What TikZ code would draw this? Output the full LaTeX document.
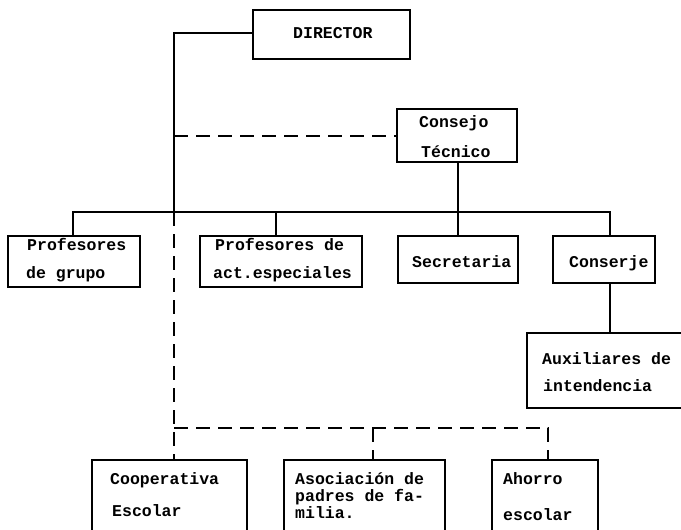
\documentclass[tikz,border=0pt]{standalone}
\usepackage{fontspec}
\setmonofont{Liberation Mono}
\begin{document}
\begin{tikzpicture}[x=1pt,y=-1pt,
  box/.style={draw, line width=2pt, rectangle, inner sep=0pt},
  conn/.style={line width=2pt},
  dconn/.style={line width=2pt, dash pattern=on 14pt off 8pt},
  lbl/.style={anchor=base west, inner sep=0pt, font=\fontsize{16.5}{18}\selectfont\ttfamily\bfseries}]
\useasboundingbox (0,0) rectangle (681,530);
\clip (0,0) rectangle (681,530);
% boxes
\node[box, minimum width=157pt, minimum height=49pt] (dir) at (331.5,34.5) {};
\node[box, minimum width=120pt, minimum height=53pt] (cons) at (457,135.5) {};
\node[box, minimum width=132pt, minimum height=51pt] (pg) at (74,261.5) {};
\node[box, minimum width=162pt, minimum height=51pt] (pa) at (281,261.5) {};
\node[box, minimum width=120pt, minimum height=47pt] (sec) at (458,259.5) {};
\node[box, minimum width=102pt, minimum height=47pt] (conj) at (604,259.5) {};
\node[box, minimum width=163pt, minimum height=75pt] (aux) at (608.5,370.5) {};
\node[box, minimum width=155pt, minimum height=90pt] (coop) at (169.5,505) {};
\node[box, minimum width=161pt, minimum height=90pt] (asoc) at (364.5,505) {};
\node[box, minimum width=106pt, minimum height=90pt] (aho) at (545,505) {};
% labels
\node[lbl] (tdir) at (293,38) {DIRECTOR};
\node[lbl] (tcons1) at (419,127) {Consejo};
\node[lbl] (tcons2) at (421,157) {Técnico};
\node[lbl] (tpg1) at (27,250) {Profesores};
\node[lbl] (tpg2) at (26,278) {de grupo};
\node[lbl] (tpa1) at (215,250) {Profesores de};
\node[lbl] (tpa2) at (213,278) {act.especiales};
\node[lbl] (tsec) at (412,267) {Secretaria};
\node[lbl] (tconj) at (569,267) {Conserje};
\node[lbl] (taux1) at (542,364) {Auxiliares de};
\node[lbl] (taux2) at (543,391) {intendencia};
\node[lbl] (tcoop1) at (110,484) {Cooperativa};
\node[lbl] (tcoop2) at (112,516) {Escolar};
\node[lbl] (tasoc1) at (295,484) {Asociación de};
\node[lbl] (tasoc2) at (295,501) {padres de fa-};
\node[lbl] (tasoc3) at (295,518) {milia.};
\node[lbl] (taho1) at (503,484) {Ahorro};
\node[lbl] (taho2) at (503,520) {escolar};
% junctions
\coordinate (jtop) at (174,33);
\coordinate (jbar) at (174,212);
\coordinate (jbl) at (73,212);
\coordinate (jbr) at (610,212);
\coordinate (jcons) at (174,136);
\coordinate (jlow) at (174,428);
\coordinate (jlr) at (548,428);
\coordinate (jlm) at (373,428);
% solid connectors
\draw[conn] (dir.west |- jtop) -- (jtop) -- (jbar);
\draw[conn] (pg.north -| jbl) -- (jbl) -- (jbr) -- (conj.north -| jbr);
\draw[conn] (276,212) -- (pa.north -| 276,0);
\draw[conn] (cons.south -| 458,0) -- (sec.north -| 458,0);
\draw[conn] (conj.south -| 610,0) -- (aux.north -| 610,0);
% dashed connectors
\draw[dconn] (jcons) -- (cons.west |- jcons);
\draw[dconn] (jbar) -- (coop.north -| jbar);
\draw[dconn] (jlow) -- (jlr) -- (aho.north -| jlr);
\draw[dconn] (jlm) -- (asoc.north -| jlm);
\end{tikzpicture}
\end{document}
